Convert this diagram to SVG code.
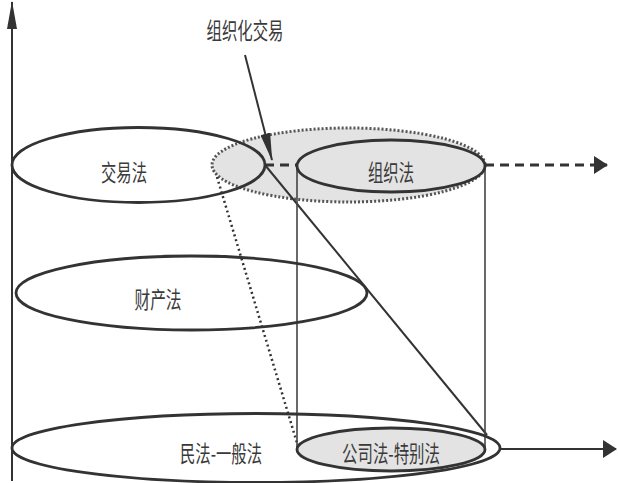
<svg xmlns="http://www.w3.org/2000/svg" width="618" height="483" viewBox="0 0 618 483">
<defs>
<style>
.ell{fill:none;stroke:#333;stroke-width:2.8}
.gray{fill:#e3e3e3}
.thin{stroke:#444;stroke-width:1.6;fill:none}
.lbl{font-family:"Noto Sans CJK SC","Noto Sans",sans-serif;font-size:23px;fill:#3a3a3a;text-anchor:middle}
</style>
<marker id="ahLong" viewBox="0 0 28 10" refX="27" refY="5" markerWidth="28" markerHeight="10" orient="auto" markerUnits="userSpaceOnUse">
<path d="M0,0 L28,5 L0,10 Z" fill="#333"/>
</marker>
<marker id="ahWide" viewBox="0 0 14 18" refX="13" refY="9" markerWidth="14" markerHeight="18" orient="auto" markerUnits="userSpaceOnUse">
<path d="M0,0 L14,9 L0,18 Z" fill="#333"/>
</marker>
</defs>
<g id="org-trade">
<ellipse cx="348.5" cy="165" rx="136.5" ry="37" class="gray" stroke="#555" stroke-width="3" stroke-dasharray="2 2"/>
</g>
<g id="connectors">
<line x1="12" y1="481" x2="12" y2="2" stroke="#333" stroke-width="2" marker-end="url(#ahLong)"/>
<line x1="265" y1="165" x2="297" y2="165" stroke="#333" stroke-width="3" stroke-dasharray="9 6"/>
<line x1="485" y1="165" x2="607" y2="165" stroke="#333" stroke-width="3" stroke-dasharray="9 6" marker-end="url(#ahWide)"/>
<line x1="500" y1="449" x2="616" y2="449" stroke="#333" stroke-width="2" marker-end="url(#ahWide)"/>
<line x1="265" y1="165" x2="487" y2="435" stroke="#333" stroke-width="2"/>
<line x1="217" y1="177" x2="297" y2="443" stroke="#333" stroke-width="2.5" stroke-dasharray="2 3"/>
<line x1="297" y1="166" x2="297" y2="449" class="thin"/>
<line x1="485" y1="166" x2="485" y2="449" class="thin"/>
<line x1="245" y1="55" x2="272" y2="160" stroke="#333" stroke-width="2" marker-end="url(#ahLong)"/>
</g>
<g id="trade-law">
<ellipse cx="138.5" cy="165" rx="126.5" ry="37.5" class="ell"/>
<text x="124" y="181" class="lbl" textLength="46" lengthAdjust="spacingAndGlyphs">交易法</text>
</g>
<g id="property-law">
<ellipse cx="191.5" cy="293" rx="175.5" ry="37" class="ell"/>
<text x="158" y="308" class="lbl" textLength="47" lengthAdjust="spacingAndGlyphs">财产法</text>
</g>
<g id="civil-law">
<ellipse cx="256" cy="448" rx="244" ry="34.5" class="ell"/>
<text x="221" y="462" class="lbl" textLength="82" lengthAdjust="spacingAndGlyphs">民法-一般法</text>
</g>
<g id="org-law">
<ellipse cx="391" cy="166" rx="94" ry="26" class="ell gray"/>
<text x="391" y="181" class="lbl" textLength="46" lengthAdjust="spacingAndGlyphs">组织法</text>
</g>
<g id="company-law">
<ellipse cx="391" cy="449.5" rx="94" ry="21.5" class="ell gray"/>
<text x="391" y="462" class="lbl" textLength="98" lengthAdjust="spacingAndGlyphs">公司法-特别法</text>
</g>
<g id="org-trade-label">
<text x="245" y="39" class="lbl" textLength="77" lengthAdjust="spacingAndGlyphs">组织化交易</text>
</g>
</svg>
